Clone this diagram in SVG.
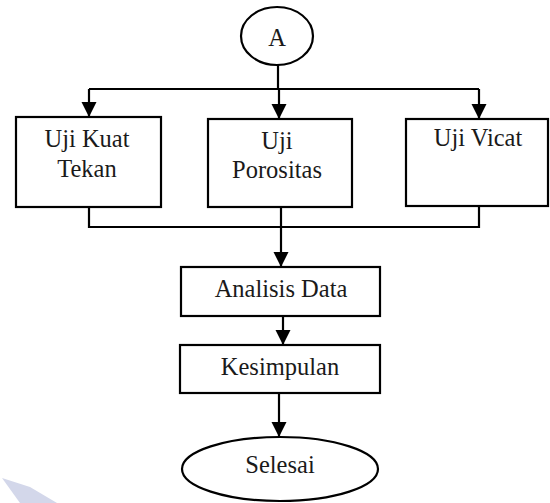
<svg xmlns="http://www.w3.org/2000/svg" width="550" height="503" viewBox="0 0 550 503">
<style>
.box{fill:#fff;stroke:#000;stroke-width:2.2}
.ln{fill:none;stroke:#000;stroke-width:2.2}
.t{font-family:"Liberation Serif","Times New Roman",serif;font-size:24.5px;fill:#1a1a1a;text-anchor:middle}
</style>
<defs>
<marker id="ah" markerUnits="userSpaceOnUse" markerWidth="16" markerHeight="16" viewBox="0 0 16 16" refX="15" refY="8" orient="auto">
<path d="M0,0.5 L15,8 L0,15.5 Z" fill="#000"/>
</marker>
</defs>
<polygon points="2,478 30,487 57,503 20,503" fill="#d3d7ea"/>
<g id="connectors">
<path class="ln" d="M278,65 V89"/>
<path class="ln" d="M89,89 H479"/>
<path class="ln" d="M89,89 V117" marker-end="url(#ah)"/>
<path class="ln" d="M279,89 V119" marker-end="url(#ah)"/>
<path class="ln" d="M479,89 V119" marker-end="url(#ah)"/>
<path class="ln" d="M89,207 V227 H479 V206"/>
<path class="ln" d="M281,207 V267" marker-end="url(#ah)"/>
<path class="ln" d="M283,316 V345" marker-end="url(#ah)"/>
<path class="ln" d="M279,393 V437" marker-end="url(#ah)"/>
</g>
<g id="nodeA">
<ellipse class="box" cx="277" cy="36" rx="36" ry="29"/>
<text class="t" x="277" y="46">A</text>
</g>
<g id="ujiKuatTekan">
<rect class="box" x="16" y="117" width="145" height="90"/>
<text class="t" x="87" y="147">Uji Kuat</text>
<text class="t" x="87" y="177">Tekan</text>
</g>
<g id="ujiPorositas">
<rect class="box" x="208" y="119" width="144" height="88"/>
<text class="t" x="277" y="149">Uji</text>
<text class="t" x="277" y="178">Porositas</text>
</g>
<g id="ujiVicat">
<rect class="box" x="406" y="119" width="142" height="87"/>
<text class="t" x="478" y="146">Uji Vicat</text>
</g>
<g id="analisisData">
<rect class="box" x="181" y="267" width="199" height="49"/>
<text class="t" x="281" y="297">Analisis Data</text>
</g>
<g id="kesimpulan">
<rect class="box" x="180" y="345" width="200" height="48"/>
<text class="t" x="280" y="375">Kesimpulan</text>
</g>
<g id="selesai">
<ellipse class="box" cx="280" cy="469" rx="98" ry="32"/>
<text class="t" x="280" y="473">Selesai</text>
</g>
</svg>
